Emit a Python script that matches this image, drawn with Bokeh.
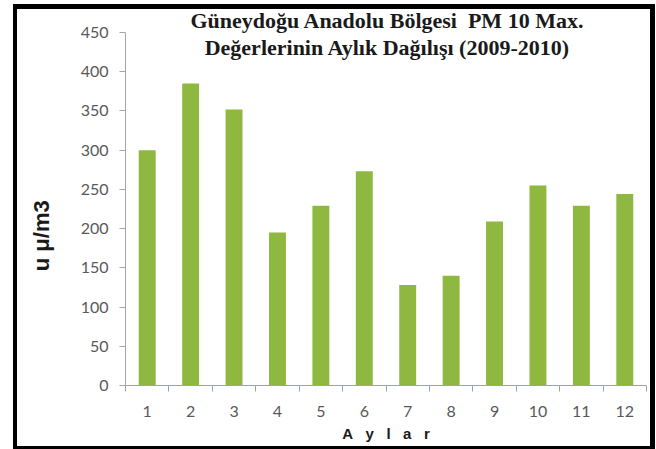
from bokeh.plotting import figure
from bokeh.models import FixedTicker, Range1d, Label
from bokeh.embed import file_html
from bokeh.resources import INLINE

NBSP = "\u00a0"

# ---- data ----
months = [1, 2, 3, 4, 5, 6, 7, 8, 9, 10, 11, 12]
month_labels = ["1", "2", "3", "4", "5", "6", "7", "8", "9", "10", "11", "12"]
pm10_max = [300, 385, 352, 195, 229, 273, 128, 140, 209, 255, 229, 244]
y_ticks = [0, 50, 100, 150, 200, 250, 300, 350, 400, 450]
title_lines = ["Güneydoğu Anadolu Bölgesi" + NBSP + " PM 10 Max.",
               "Değerlerinin Aylık Dağılışı (2009-2010)"]
x_title = (NBSP * 3).join(["A", "y", "l", "a", "r"])
y_title = "u μ/m3"

TICK_FONT = "Lato"
GREY_TXT = "#595959"
AXIS_GREY = "#a6a6a6"

W, H = 656, 449
FRAME_TOP_PAD = 32 / 353  # space above the 450 tick, as a fraction of the axis span

p = figure(width=W, height=H, output_backend="svg", toolbar_location=None,
           x_range=Range1d(months[0] - 0.5, months[-1] + 0.5),
           y_range=Range1d(y_ticks[0], y_ticks[-1] * (1 + FRAME_TOP_PAD)),
           min_border_left=125, min_border_right=10,
           min_border_top=0, min_border_bottom=64)

# transparent canvas so the page-level frame drawn in CSS shows through
p.background_fill_alpha = 0
p.border_fill_alpha = 0
p.outline_line_color = None
p.xgrid.visible = False
p.ygrid.visible = False
p.styles = {
    "background": (
        "linear-gradient(#000,#000) 13px 4px / 4px 445px no-repeat, "
        "linear-gradient(#000,#000) 13px 4px / 642px 5px no-repeat, "
        "linear-gradient(#000,#000) 650px 4px / 5px 445px no-repeat, "
        "linear-gradient(#000,#000) 13px 446px / 642px 3px no-repeat, "
        "#ffffff"
    )
}

p.vbar(x=months, top=pm10_max, width=0.39, fill_color="#8fb840", line_color=None)

# y axis
ya = p.yaxis[0]
ya.ticker = FixedTicker(ticks=y_ticks)
ya.bounds = (y_ticks[0], y_ticks[-1])
ya.major_tick_out = 6
ya.major_tick_in = 0
ya.minor_tick_out = 0
ya.minor_tick_in = 0
ya.axis_line_color = AXIS_GREY
ya.major_tick_line_color = AXIS_GREY
ya.major_label_text_font = TICK_FONT
ya.major_label_text_font_size = "16px"
ya.major_label_text_color = GREY_TXT
ya.major_label_standoff = 11
# trailing non-breaking spaces push the rotated label down, as in the original
ya.axis_label = y_title + NBSP * 14
ya.axis_label_text_font = "Liberation Sans"
ya.axis_label_text_font_style = "bold"
ya.axis_label_text_font_size = "22px"
ya.axis_label_text_color = "#1a1a1a"
ya.axis_label_standoff = 24

# x axis: labels at centres, ticks between categories
xa = p.xaxis[0]
minor = [m - 0.5 for m in months] + [months[-1] + 0.5]
xa.ticker = FixedTicker(ticks=months, minor_ticks=minor)
xa.major_label_overrides = {m: lab for m, lab in zip(months, month_labels)}
xa.major_tick_out = 0
xa.major_tick_in = 0
xa.minor_tick_out = 6
xa.minor_tick_in = 0
xa.minor_tick_line_color = "#9aa3b0"
xa.axis_line_color = "#9aa3b0"
xa.major_label_text_font = TICK_FONT
xa.major_label_text_font_size = "16px"
xa.major_label_text_color = GREY_TXT
xa.major_label_standoff = 14
xa.axis_label = x_title
xa.axis_label_text_font = "Liberation Sans"
xa.axis_label_text_font_style = "bold"
xa.axis_label_text_font_size = "15px"
xa.axis_label_text_color = "#1a1a1a"
xa.axis_label_standoff = 5

# title (overlapping the top of the frame)
for txt, yy in zip(title_lines, [365, 338]):
    p.add_layout(Label(x=262, y=yy, x_units="screen", y_units="screen", text=txt,
                       text_font="Liberation Serif", text_font_style="bold",
                       text_font_size="22px", text_color="#1a1a1a",
                       text_align="center", text_baseline="middle"))

open("out.html", "w").write(file_html(p, INLINE))
